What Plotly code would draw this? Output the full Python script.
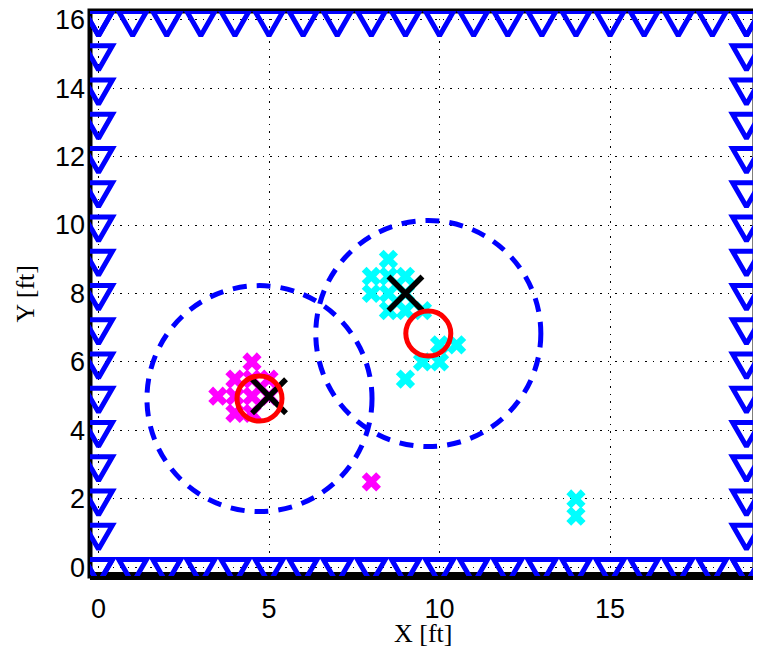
import plotly.graph_objects as go

# ---- data ----
sensor_cols = [0, 1, 2, 3, 4, 5, 6, 7, 8, 9, 10, 11, 12, 13, 14, 15, 16, 17, 18, 19]
sensor_rows = [0, 1, 2, 3, 4, 5, 6, 7, 8, 9, 10, 11, 12, 13, 14, 15, 16]

magenta_x = [4.5, 4.0, 4.5, 5.0, 3.5, 4.0, 4.5, 5.0, 4.0, 4.5, 8.0]
magenta_y = [6.0, 5.5, 5.5, 5.5, 5.0, 5.0, 5.0, 5.0, 4.5, 4.5, 2.5]

cyan_x = [8.5, 8.0, 8.5, 9.0, 8.0, 8.5, 9.0, 8.5, 9.0, 9.5, 10.0, 10.5, 9.5, 10.0, 9.0, 14.0, 14.0]
cyan_y = [9.0, 8.5, 8.5, 8.5, 8.0, 8.0, 8.0, 7.5, 7.5, 7.5, 6.5, 6.5, 6.0, 6.0, 5.5, 2.0, 1.5]

truth_x = [5.0, 9.0]
truth_y = [5.0, 8.0]

est_x = [4.72, 9.67]
est_y = [4.93, 6.83]
est_radius = [3.3, 3.3]

x_ticks = [0, 5, 10, 15]
y_ticks = [0, 2, 4, 6, 8, 10, 12, 14, 16]

# perimeter sensor positions
sx, sy = [], []
x_min, x_max = sensor_cols[0], sensor_cols[-1]
y_min, y_max = sensor_rows[0], sensor_rows[-1]
for c in sensor_cols:
    sx.append(c); sy.append(y_max)
for c in sensor_cols:
    sx.append(c); sy.append(y_min)
for r in sensor_rows:
    sx.append(x_min); sy.append(r)
for r in sensor_rows:
    sx.append(x_max); sy.append(r)

# open downward-triangle glyph (marker style, in axis units; axes have equal scale)
TRI_R = 0.47
tri_dx = [0.0, -0.866 * TRI_R, 0.866 * TRI_R]
tri_dy = [-TRI_R, 0.5 * TRI_R, 0.5 * TRI_R]
order = [0, 1, 2, 0, 1]
tx, ty = [], []
for px, py in zip(sx, sy):
    for k in order:
        tx.append(px + tri_dx[k]); ty.append(py + tri_dy[k])
    tx.append(None); ty.append(None)

fig = go.Figure()

fig.add_trace(go.Scatter(
    x=magenta_x, y=magenta_y, mode="markers", cliponaxis=False,
    marker=dict(symbol="x", size=17, color="#FF00FF", line=dict(width=0)),
    showlegend=False))
fig.add_trace(go.Scatter(
    x=cyan_x, y=cyan_y, mode="markers", cliponaxis=False,
    marker=dict(symbol="x", size=17, color="#00FFFF", line=dict(width=0)),
    showlegend=False))
fig.add_trace(go.Scatter(
    x=truth_x, y=truth_y, mode="markers", cliponaxis=False,
    marker=dict(symbol="x-thin-open", size=34, color="black",
                line=dict(width=5.5, color="black")),
    showlegend=False))
fig.add_trace(go.Scatter(
    x=est_x, y=est_y, mode="markers", cliponaxis=False,
    marker=dict(symbol="circle-open", size=45, color="#FF0000",
                line=dict(width=5, color="#FF0000")),
    showlegend=False))
fig.add_trace(go.Scatter(
    x=tx, y=ty, mode="lines", cliponaxis=False, connectgaps=False,
    line=dict(color="#0000FF", width=5),
    hoverinfo="skip", showlegend=False))

shapes = []
for cx, cy, rr in zip(est_x, est_y, est_radius):
    shapes.append(dict(type="circle", xref="x", yref="y",
                       x0=cx - rr, x1=cx + rr, y0=cy - rr, y1=cy + rr,
                       line=dict(color="#0000FF", width=5, dash="14px,10px"),
                       layer="above"))
shapes.append(dict(type="rect", xref="paper", yref="paper", x0=0, x1=1, y0=0, y1=1,
                   line=dict(color="black", width=5), layer="below"))
shapes.append(dict(type="line", xref="paper", yref="paper", x0=0, x1=1, y0=0, y1=0,
                   line=dict(color="black", width=8), layer="below"))

axis_common = dict(
    showline=False, zeroline=False, showgrid=True, automargin=False,
    gridcolor="black", gridwidth=1, griddash="1.5px,6px",
    ticklabeloverflow="allow",
    ticks="", tickfont=dict(family="Liberation Sans, Arial", size=27, color="black"),
)

title_font = dict(family="Liberation Serif, Times New Roman", size=26, color="black")

fig.update_layout(
    width=753, height=643,
    margin=dict(l=82, r=6, t=3, b=75),
    paper_bgcolor="white", plot_bgcolor="white",
    shapes=shapes,
    xaxis=dict(range=[-0.25, 19.25], tickvals=x_ticks, ticklabelstandoff=14, **axis_common),
    yaxis=dict(range=[-0.25, 16.25], tickvals=y_ticks, ticklabelstandoff=4, **axis_common),
    annotations=[
        dict(text="X [ft]", xref="paper", yref="paper", x=0.5, y=-0.1009,
             xanchor="center", yanchor="middle", showarrow=False, font=title_font),
        dict(text="Y [ft]", xref="paper", yref="paper", x=-0.0977, y=0.5,
             xanchor="center", yanchor="middle", textangle=-90, showarrow=False,
             font=title_font),
    ],
)

fig.write_html("out.html")
